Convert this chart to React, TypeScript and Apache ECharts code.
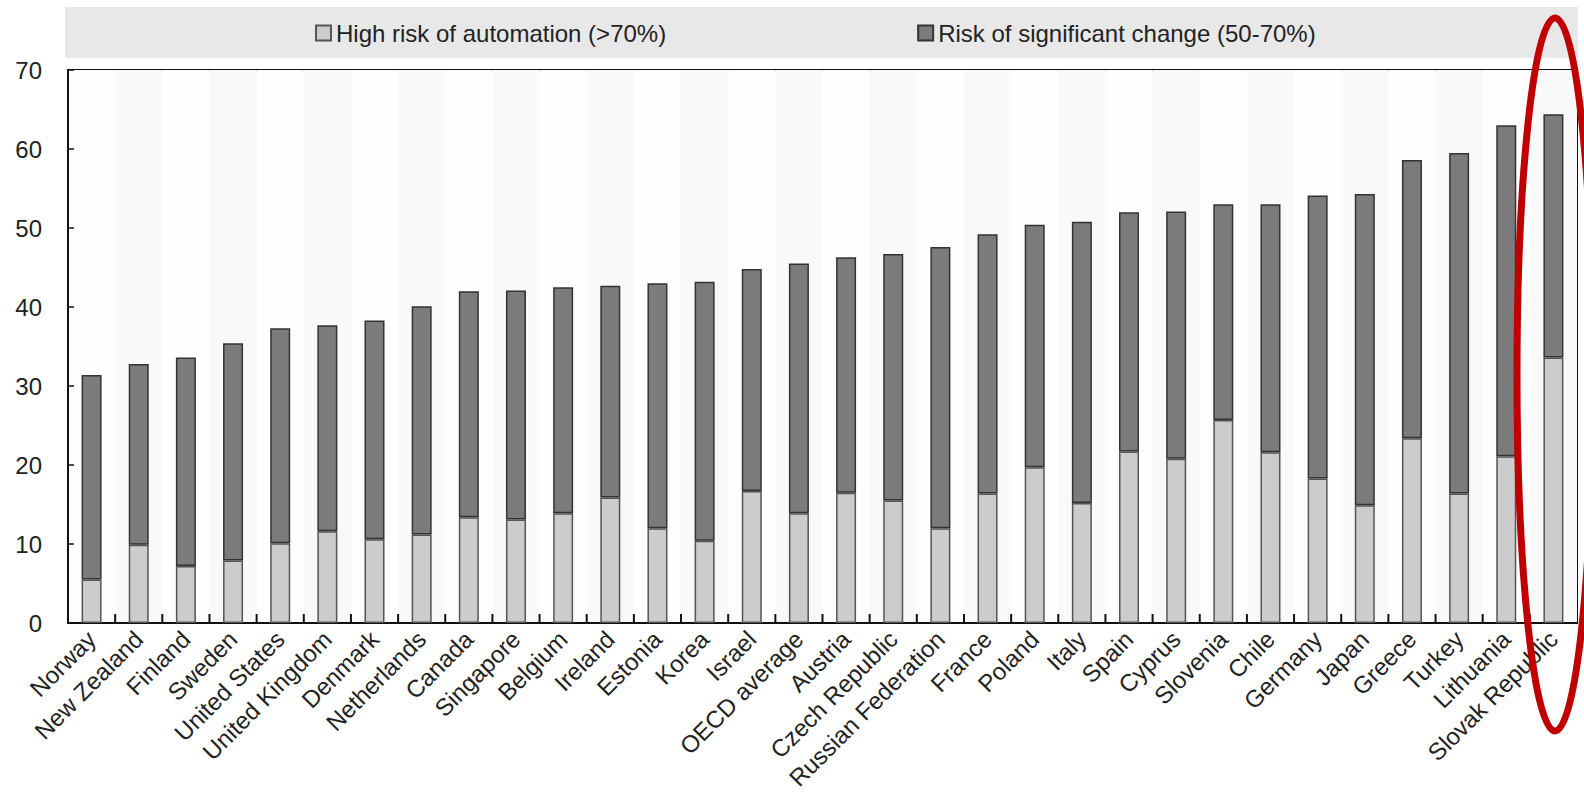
import React, { useEffect, useRef } from "react";
import * as echarts from "echarts";

const categories = [
  "Norway", "New Zealand", "Finland", "Sweden", "United States", "United Kingdom",
  "Denmark", "Netherlands", "Canada", "Singapore", "Belgium", "Ireland", "Estonia",
  "Korea", "Israel", "OECD average", "Austria", "Czech Republic", "Russian Federation",
  "France", "Poland", "Italy", "Spain", "Cyprus", "Slovenia", "Chile", "Germany",
  "Japan", "Greece", "Turkey", "Lithuania", "Slovak Republic",
];

// High risk of automation (>70%)
const highRisk = [
  5.5, 9.9, 7.2, 7.9, 10.1, 11.6, 10.6, 11.2, 13.4, 13.1, 13.9, 15.9, 12.0,
  10.4, 16.7, 13.9, 16.5, 15.5, 12.0, 16.4, 19.7, 15.2, 21.7, 20.8, 25.7, 21.6,
  18.3, 14.9, 23.4, 16.4, 21.1, 33.6,
];

// Risk of significant change (50-70%)
const significantChange = [
  25.9, 22.9, 26.4, 27.5, 27.2, 26.1, 27.7, 28.9, 28.6, 29.0, 28.6, 26.8, 31.0,
  32.8, 28.1, 31.6, 29.8, 31.2, 35.6, 32.8, 30.7, 35.6, 30.3, 31.3, 27.3, 31.4,
  35.8, 39.4, 35.2, 43.1, 41.9, 30.8,
];

const seriesNames = ["High risk of automation (>70%)", "Risk of significant change (50-70%)"];
const yTicks = { min: 0, max: 70, interval: 10 };

const FONT = '"Liberation Sans", Arial, Helvetica, sans-serif';

export default function App() {
  const ref = useRef<HTMLDivElement>(null);

  useEffect(() => {
    if (!ref.current) return;
    const chart = echarts.init(ref.current, null, { renderer: "svg" });
    // tick positions: the left boundary of every category after the first
    const tickData = categories.slice(1).map((c) => [c, 0]);
    chart.setOption({
      animation: false,
      backgroundColor: "#ffffff",
      textStyle: { fontFamily: FONT },
      graphic: [
        {
          type: "rect",
          z: -10,
          shape: { x: 65, y: 7, width: 1513, height: 51 },
          style: { fill: "#e8e8e8" },
          silent: true,
        },
        {
          type: "ellipse",
          z: 100,
          shape: { cx: 1555, cy: 374.5, rx: 38, ry: 356.5 },
          style: { fill: "none", stroke: "#c00000", lineWidth: 7 },
          silent: true,
        },
      ],
      legend: {
        left: 315,
        top: 21,
        padding: 0,
        itemGap: 251,
        itemWidth: 15,
        itemHeight: 15,
        icon: "rect",
        textStyle: { fontSize: 24, color: "#222", fontFamily: FONT },
        data: seriesNames,
      },
      grid: {
        left: 68,
        right: 7,
        top: 70,
        bottom: 177,
        show: true,
        borderColor: "#111",
        borderWidth: 2,
        backgroundColor: "transparent",
      },
      xAxis: [
        {
          type: "category",
          data: categories,
          position: "bottom",
          axisLine: { lineStyle: { color: "#111", width: 2 } },
          axisTick: { show: false },
          axisLabel: {
            rotate: 45,
            interval: 0,
            fontSize: 24,
            color: "#222",
            margin: 12,
            fontFamily: FONT,
          },
          splitArea: { show: true, interval: 0, areaStyle: { color: ["#fefefe", "#f9f9f9"] } },
        },
      ],
      yAxis: {
        type: "value",
        min: yTicks.min,
        max: yTicks.max,
        interval: yTicks.interval,
        axisLine: { show: true, lineStyle: { color: "#111", width: 2 } },
        axisTick: { show: true, inside: true, length: 6, lineStyle: { color: "#111", width: 1.5 } },
        axisLabel: { fontSize: 24, color: "#222", margin: 26, fontFamily: FONT },
        splitLine: { show: false },
      },
      series: [
        {
          name: seriesNames[0],
          type: "bar",
          stack: "total",
          barWidth: 20,
          data: highRisk,
          itemStyle: { color: "#cccccc", borderColor: "#555555", borderWidth: 1.5 },
        },
        {
          name: seriesNames[1],
          type: "bar",
          stack: "total",
          barWidth: 20,
          data: significantChange,
          itemStyle: { color: "#7b7b7b", borderColor: "#333333", borderWidth: 1.5 },
        },
        {
          name: "ticks",
          type: "custom",
          z: 10,
          silent: true,
          data: tickData,
          encode: { x: 0, y: 1 },
          renderItem: (params: any, api: any) => {
            const pt = api.coord([api.value(0), api.value(1)]);
            const band = api.size([1, 0])[0];
            const x = pt[0] - band / 2;
            return {
              type: "line",
              shape: { x1: x, y1: pt[1], x2: x, y2: pt[1] - 9 },
              style: { stroke: "#111", lineWidth: 2 },
            };
          },
        },
      ],
    });
    return () => chart.dispose();
  }, []);

  return (
    <div
      ref={ref}
      style={{ position: "absolute", left: 0, top: 0, width: 1584, height: 800 }}
    />
  );
}
